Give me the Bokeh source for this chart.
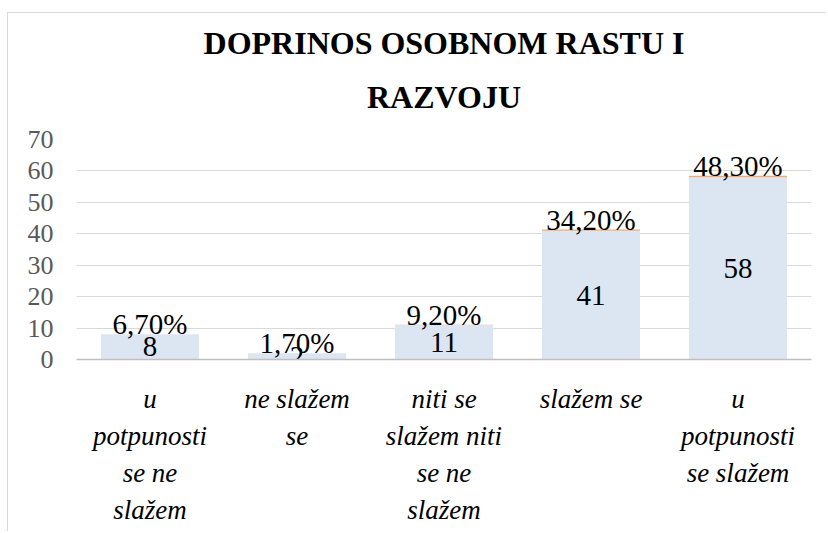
from bokeh.plotting import figure
from bokeh.models import ColumnDataSource, FactorRange, Range1d, SingleIntervalTicker, Title
from bokeh.core.properties import value
from bokeh.embed import file_html
from bokeh.resources import INLINE

# ---- data ----
categories = [
    "u potpunosti se ne slažem",
    "ne slažem se",
    "niti se slažem niti se ne slažem",
    "slažem se",
    "u potpunosti se slažem",
]
tick_labels = [
    "u\npotpunosti\nse ne\nslažem",
    "ne slažem\nse",
    "niti se\nslažem niti\nse ne\nslažem",
    "slažem se",
    "u\npotpunosti\nse slažem",
]
counts = [8, 2, 11, 41, 58]
percent_values = [0.067, 0.017, 0.092, 0.342, 0.483]
title_lines = ["DOPRINOS OSOBNOM RASTU I", "RAZVOJU"]

FONT = "Liberation Serif"
BLUE = "#dce6f2"
ORANGE = "#f4a76e"

pct_labels = [f"{v * 100:.2f}".replace(".", ",") + "%" for v in percent_values]
source = ColumnDataSource(dict(
    cat=tick_labels,
    count=counts,
    pct=percent_values,
    top=[c + v for c, v in zip(counts, percent_values)],
    mid=[c / 2 for c in counts],
    pct_label=pct_labels,
    count_label=[str(c) for c in counts],
))

p = figure(
    width=819, height=519,
    x_range=FactorRange(factors=tick_labels, range_padding=0),
    y_range=Range1d(0, 70),
    output_backend="svg", toolbar_location=None,
    min_border_left=68, min_border_right=16,
    min_border_top=126, min_border_bottom=173,
)
p.styles = {"border-top": "1px solid #d9d9d9", "border-left": "1px solid #d9d9d9",
            "margin-top": "12px", "margin-left": "7px"}
p.outline_line_color = None
p.background_fill_color = "white"
p.border_fill_color = "white"

p.vbar_stack(["count", "pct"], x="cat", width=0.667, color=[BLUE, ORANGE],
             line_color=None, source=source)

p.text(x="cat", y="top", text="pct_label", source=source,
       text_align="center", text_baseline="alphabetic", y_offset=-10,
       text_font=value(FONT), text_font_size="29px", text_color="#000000")
p.text(x="cat", y="mid", text="count_label", source=source,
       text_align="center", text_baseline="middle",
       text_font=value(FONT), text_font_size="29px", text_color="#000000")

# title: two centred lines (first line = p.title, outermost)
p.title.text = title_lines[0]
p.title.align = "center"
p.title.standoff = -17
p.title.text_font = FONT
p.title.text_font_size = "32px"
p.title.text_font_style = "bold"
p.title.text_color = "#000000"
p.add_layout(Title(text=title_lines[1], align="center", standoff=49,
                   text_font=FONT, text_font_size="32px",
                   text_font_style="bold", text_color="#000000"), "above")

# axes
p.yaxis.ticker = SingleIntervalTicker(interval=10)
p.yaxis.axis_line_color = None
p.yaxis.major_tick_line_color = None
p.yaxis.minor_tick_line_color = None
p.yaxis.major_label_text_font = FONT
p.yaxis.major_label_text_font_size = "26px"
p.yaxis.major_label_text_color = "#595959"
p.yaxis.major_label_standoff = 17

p.xaxis.axis_line_color = "#bfbfbf"
p.xaxis.axis_line_width = 1.5
p.xaxis.major_tick_line_color = None
p.xaxis.minor_tick_line_color = None
p.xaxis.major_label_text_font = FONT
p.xaxis.major_label_text_font_size = "27px"
p.xaxis.major_label_text_font_style = "italic"
p.xaxis.major_label_text_color = "#000000"
p.xaxis.major_label_text_line_height = 1.24
p.xaxis.major_label_standoff = 18

p.xgrid.grid_line_color = None
p.ygrid.grid_line_color = "#d9d9d9"
p.ygrid.grid_line_width = 1

open("out.html", "w").write(file_html(p, INLINE))
